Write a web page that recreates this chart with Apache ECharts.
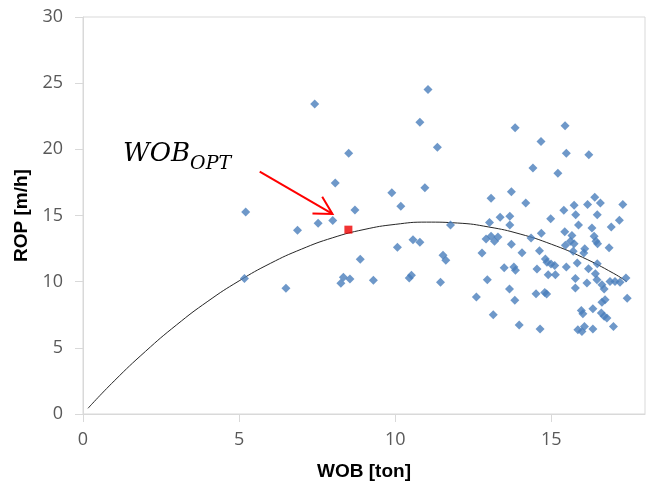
<!DOCTYPE html>
<html>
<head>
<meta charset="utf-8">
<script src="https://cdn.jsdelivr.net/npm/echarts@6/dist/echarts.min.js"></script>
<style>
  html, body { margin: 0; padding: 0; background: #ffffff; }
  #chart { width: 646px; height: 486px; }
</style>
</head>
<body>
<div id="chart"></div>
<script>
// Measured weight on bit (ton) and rate of penetration (m/h)
const wob = [
  5.21, 5.17, 7.42, 6.5, 6.87, 7.53, 8.0, 8.08, 8.51, 8.71, 8.88, 8.26, 8.34, 8.55, 9.3, 9.89, 10.07, 11.05,
  10.79, 13.84, 15.44, 14.67, 11.35, 15.48, 16.2, 14.41, 15.21, 10.95, 10.18, 13.72, 13.07, 14.18, 16.39, 16.57,
  15.73, 16.16, 17.29, 15.4, 15.78, 16.47, 14.98, 13.36, 13.67, 13.67, 13.02, 11.77, 17.18, 16.92, 16.3, 15.87,
  14.68, 15.43, 14.35, 15.66, 15.61, 15.73, 15.45, 16.37, 16.43, 16.48, 16.07, 16.85, 16.04, 15.7, 12.91, 13.07,
  13.29, 13.18, 13.72, 12.78, 14.06, 14.62, 10.57, 10.79, 11.53, 11.62, 10.45, 10.52, 11.45, 12.6, 12.95, 13.14,
  13.49, 13.8, 13.85, 13.66, 13.83, 13.97, 14.54, 14.51, 14.79, 14.85, 14.64, 14.81, 14.86, 14.99, 15.11, 14.9,
  15.13, 15.48, 15.83, 16.19, 16.47, 15.77, 16.14, 15.77, 16.41, 16.46, 16.62, 16.69, 16.88, 17.04, 17.2, 17.39,
  17.43, 15.96, 16.01, 16.33, 16.62, 16.72, 16.6, 16.69, 16.78, 16.99, 15.85, 15.98, 16.06, 16.33
];
const rop = [
  15.26, 10.23, 23.43, 9.5, 13.88, 14.41, 14.63, 17.45, 19.71, 15.41, 11.69, 9.88, 10.33, 10.21, 10.11, 16.72, 12.6, 24.52,
  22.04, 21.64, 21.79, 20.6, 20.15, 19.7, 19.6, 18.59, 18.2, 17.1, 15.7, 16.8, 16.3, 15.95, 16.37, 15.95,
  15.77, 15.84, 15.84, 15.39, 15.06, 15.06, 14.76, 14.86, 14.94, 14.28, 14.48, 14.28, 14.64, 14.13, 14.06, 14.28,
  13.65, 13.78, 13.3, 13.48, 13.05, 12.87, 12.75, 13.43, 13.05, 12.87, 12.49, 12.57, 12.17, 12.3, 13.23, 13.43,
  13.38, 13.05, 12.82, 12.17, 12.19, 12.34, 13.17, 12.97, 11.99, 11.61, 10.28, 10.48, 9.95, 8.84, 10.15, 7.5,
  11.06, 11.11, 10.86, 9.45, 8.59, 6.72, 10.96, 9.09, 9.19, 9.07, 6.42, 11.71, 11.46, 11.34, 11.23, 10.53,
  10.53, 11.11, 11.41, 10.98, 11.36, 10.23, 9.9, 9.52, 10.6, 10.15, 9.77, 9.45, 10.02, 10.02, 9.95, 10.28,
  8.74, 7.83, 7.58, 7.96, 8.44, 8.64, 7.63, 7.38, 7.26, 6.62, 6.37, 6.24, 6.62, 6.42
];

// Optimum point
const optWob = [8.5];
const optRop = [13.93];

// Polynomial trend line, read along its length
const trendWob = [0.16, 1, 2, 3, 4, 5, 6, 7, 8, 9, 10, 11, 12, 13, 14, 15, 16, 17, 17.42];
const trendRop = [0.43, 2.5, 4.73, 6.74, 8.52, 10.06, 11.38, 12.46, 13.32, 13.94, 14.33, 14.5, 14.43, 14.13, 13.6, 12.83, 11.84, 10.62, 10.0];

// Axis tick labels
const xTicks = [0, 5, 10, 15];
const yTicks = [0, 5, 10, 15, 20, 25, 30];

// Annotation: label anchor and arrow (tail, head) in data units
const labelMain = 'WOB';
const labelSub = 'OPT';
const labelAnchor = [1.28, 18.62];
const arrowTail = [5.66, 18.31];
const arrowHead = [7.99, 15.12];

const zipPairs = (xs, ys) => xs.map((x, i) => [x, ys[i]]);

const gridLine = '#d9d9d9';
const tickText = '#595959';

const chart = echarts.init(document.getElementById('chart'), null, { renderer: 'canvas' });

chart.setOption({
  animation: false,
  backgroundColor: '#ffffff',
  grid: {
    left: 83, top: 17, width: 562, height: 397,
    show: true, borderColor: gridLine, borderWidth: 1, backgroundColor: 'transparent'
  },
  xAxis: {
    type: 'value', min: 0, max: 18, interval: 5,
    name: 'WOB [ton]', nameLocation: 'middle', nameGap: 48,
    nameTextStyle: { fontFamily: 'Liberation Sans', fontWeight: 'bold', fontSize: 19, color: '#000000' },
    axisLine: { show: true, lineStyle: { color: gridLine, width: 1 } },
    axisTick: { show: true, length: 8, lineStyle: { color: gridLine }, customValues: xTicks },
    axisLabel: { customValues: xTicks, margin: 17, fontFamily: 'Open Sans', fontSize: 18, color: tickText },
    splitLine: { show: false }
  },
  yAxis: {
    type: 'value', min: 0, max: 30, interval: 5,
    name: 'ROP [m/h]', nameLocation: 'middle', nameGap: 50,
    nameTextStyle: { fontFamily: 'Liberation Sans', fontWeight: 'bold', fontSize: 19, color: '#000000' },
    axisLine: { show: true, lineStyle: { color: gridLine, width: 1 } },
    axisTick: { show: true, length: 8, lineStyle: { color: gridLine }, customValues: yTicks },
    axisLabel: { customValues: yTicks, margin: 20, fontFamily: 'Open Sans', fontSize: 18, color: tickText },
    splitLine: { show: false }
  },
  series: [
    {
      name: 'trend', type: 'line', smooth: true, showSymbol: false, z: 2,
      lineStyle: { color: '#262626', width: 1 },
      data: zipPairs(trendWob, trendRop)
    },
    {
      name: 'ROP', type: 'scatter', symbol: 'diamond', symbolSize: 9, z: 3,
      itemStyle: { color: '#4a7ebb' },
      data: zipPairs(wob, rop)
    },
    {
      name: 'optimum', type: 'scatter', symbol: 'rect', symbolSize: 8, z: 4,
      itemStyle: { color: '#ee0000' },
      data: zipPairs(optWob, optRop)
    }
  ]
});

// Annotation text and arrow, placed through the axes
function drawAnnotation() {
  const toPx = (p) => chart.convertToPixel({ gridIndex: 0 }, p);
  const a = toPx(labelAnchor);
  const t = toPx(arrowTail);
  const h = toPx(arrowHead);

  const mainFont = 'italic 26px "DejaVu Serif"';
  const subFont = 'italic 19px "DejaVu Serif"';
  const ctx = document.createElement('canvas').getContext('2d');
  ctx.font = mainFont;
  const mainW = ctx.measureText(labelMain).width;

  // arrow head: two open barbs
  const ang = Math.atan2(t[1] - h[1], t[0] - h[0]);
  const barb = 20, spread = 29 * Math.PI / 180;
  const b1 = [h[0] + barb * Math.cos(ang - spread), h[1] + barb * Math.sin(ang - spread)];
  const b2 = [h[0] + barb * Math.cos(ang + spread), h[1] + barb * Math.sin(ang + spread)];

  chart.setOption({
    graphic: [
      { type: 'text', z: 10, style: { x: a[0], y: a[1], text: labelMain, font: mainFont, fill: '#000000', textAlign: 'left', textVerticalAlign: 'bottom' } },
      { type: 'text', z: 10, style: { x: a[0] + mainW, y: a[1] + 6, text: labelSub, font: subFont, fill: '#000000', textAlign: 'left', textVerticalAlign: 'bottom' } },
      { type: 'line', z: 10, shape: { x1: t[0], y1: t[1], x2: h[0], y2: h[1] }, style: { stroke: '#ff0000', lineWidth: 2 } },
      { type: 'polyline', z: 10, shape: { points: [b1, h, b2] }, style: { stroke: '#ff0000', lineWidth: 2, fill: null } }
    ]
  });
}
drawAnnotation();
</script>
</body>
</html>
